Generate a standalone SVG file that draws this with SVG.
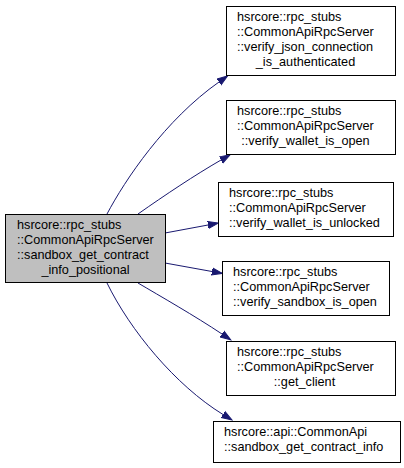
<svg xmlns="http://www.w3.org/2000/svg" width="404" height="468" viewBox="0 0 404 468">
<style>
.box{fill:#ffffff;stroke:#000000;stroke-width:1}
.main{fill:#bfbfbf;stroke:#000000;stroke-width:1}
text{font-family:"Liberation Sans",Arial,sans-serif;font-size:12.7px;fill:#000000}
.c{text-anchor:middle}
.edge{fill:none;stroke:#191970;stroke-width:1;marker-end:url(#arr)}
</style>
<defs>
<marker id="arr" markerUnits="userSpaceOnUse" markerWidth="12" markerHeight="10" refX="0" refY="4" orient="auto" viewBox="0 -1 12 10">
<path d="M0,0.4 L10.5,4 L0,7.6 z" fill="#191970" stroke="#191970" stroke-width="1"/>
</marker>
</defs>
<rect width="404" height="468" fill="#ffffff"/>
<g id="connectors">
<path class="edge" d="M107,214 C125,180 165,120 219,82"/>
<path class="edge" d="M138,214 C165,195 195,175 221,160"/>
<path class="edge" d="M165,233 L208,225"/>
<path class="edge" d="M165,263 L212,271.5"/>
<path class="edge" d="M138,283 C160,296 195,316 222,334"/>
<path class="edge" d="M107,283 C130,330 175,385 223,414.5"/>
</g>
<g id="node_main">
<rect class="main" x="5.5" y="214.5" width="160" height="68"/>
<text x="17" y="229">hsrcore::rpc_stubs</text>
<text x="17" y="244">::CommonApiRpcServer</text>
<text x="17" y="259">::sandbox_get_contract</text>
<text class="c" x="85.5" y="274">_info_positional</text>
</g>
<g id="node_verify_json">
<rect class="box" x="226.5" y="6.5" width="169" height="69"/>
<text x="237" y="20.5">hsrcore::rpc_stubs</text>
<text x="237" y="35.5">::CommonApiRpcServer</text>
<text x="237" y="50.5">::verify_json_connection</text>
<text class="c" x="305.5" y="65.5">_is_authenticated</text>
</g>
<g id="node_wallet_open">
<rect class="box" x="226.5" y="100.5" width="169" height="54"/>
<text x="237" y="114.5">hsrcore::rpc_stubs</text>
<text x="237" y="129.5">::CommonApiRpcServer</text>
<text class="c" x="305.5" y="144.5">::verify_wallet_is_open</text>
</g>
<g id="node_wallet_unlocked">
<rect class="box" x="218.5" y="182.5" width="175" height="54"/>
<text x="229" y="196.5">hsrcore::rpc_stubs</text>
<text x="229" y="211.5">::CommonApiRpcServer</text>
<text x="229" y="226.5">::verify_wallet_is_unlocked</text>
</g>
<g id="node_sandbox_open">
<rect class="box" x="222.5" y="261.5" width="167" height="54"/>
<text x="233" y="275.5">hsrcore::rpc_stubs</text>
<text x="233" y="290.5">::CommonApiRpcServer</text>
<text x="233" y="305.5">::verify_sandbox_is_open</text>
</g>
<g id="node_get_client">
<rect class="box" x="226.5" y="341.5" width="169" height="54"/>
<text x="237" y="355.5">hsrcore::rpc_stubs</text>
<text x="237" y="370.5">::CommonApiRpcServer</text>
<text class="c" x="304.5" y="385.5">::get_client</text>
</g>
<g id="node_api_sandbox">
<rect class="box" x="213.5" y="421.5" width="187" height="41"/>
<text x="224" y="435.5">hsrcore::api::CommonApi</text>
<text x="224" y="450.5">::sandbox_get_contract_info</text>
</g>
</svg>
